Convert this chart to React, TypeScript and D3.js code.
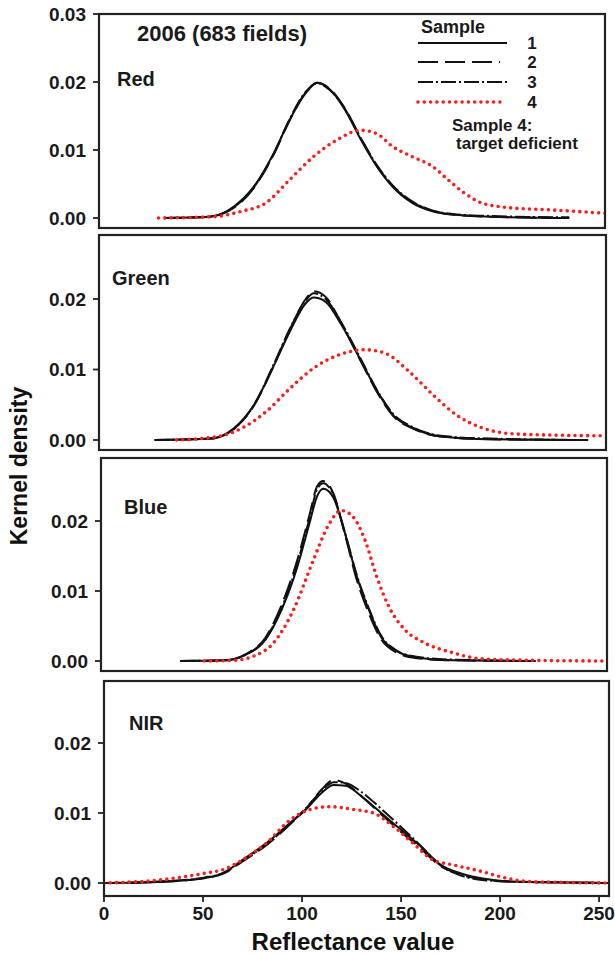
import React from "react";
import * as d3 from "d3";

// band names and sample ids
const bands = ["Red", "Green", "Blue", "NIR"];
const sampleIds = ["1", "2", "3", "4"];
const yTickValues = [0, 0.01, 0.02];
const xTickValues = [0, 50, 100, 150, 200, 250];

// Red band
const redBlackX = [33, 56, 68, 78, 88, 96, 104, 110, 116, 124, 132, 140, 148, 158, 168, 178, 197, 237];
const redS1 = [0, 0.0002, 0.0017, 0.0046, 0.0095, 0.0144, 0.0183, 0.0199, 0.019, 0.0159, 0.0115, 0.0076, 0.0046, 0.0022, 0.001, 0.0005, 0.0002, 0];
const redS2 = [0, 0.0002, 0.0015, 0.0044, 0.0093, 0.0143, 0.0184, 0.0199, 0.0191, 0.0161, 0.0117, 0.0077, 0.0047, 0.0023, 0.0011, 0.0005, 0.0002, 0];
const redS3 = [0, 0.0002, 0.0016, 0.0045, 0.0094, 0.0145, 0.0185, 0.0198, 0.0189, 0.016, 0.0117, 0.0078, 0.0048, 0.0024, 0.0011, 0.0006, 0.0003, 0.0001];
const redRedX = [30, 58, 72, 84, 96, 108, 120, 132, 140, 148, 158, 168, 176, 184, 193, 207, 227, 255];
const redS4 = [0, 0.0002, 0.001, 0.0022, 0.0056, 0.009, 0.0115, 0.0129, 0.0124, 0.0105, 0.009, 0.0076, 0.0056, 0.0037, 0.0022, 0.0015, 0.0012, 0.0007];

// Green band
const greenBlackX = [28, 56, 68, 78, 88, 96, 104, 108, 114, 122, 132, 140, 148, 158, 172, 197, 246];
const greenS1 = [0, 0.0002, 0.0017, 0.005, 0.0106, 0.0154, 0.0194, 0.0202, 0.0196, 0.0163, 0.0111, 0.0069, 0.0035, 0.0017, 0.0005, 0.0001, 0];
const greenS2 = [0, 0.0002, 0.0016, 0.0049, 0.0106, 0.0157, 0.02, 0.0211, 0.0203, 0.0165, 0.011, 0.0067, 0.0034, 0.0016, 0.0005, 0.0001, 0];
const greenS3 = [0, 0.0002, 0.0016, 0.005, 0.0108, 0.0158, 0.0198, 0.0208, 0.02, 0.0166, 0.0113, 0.007, 0.0037, 0.0018, 0.0006, 0.0002, 0];
const greenRedX = [39, 60, 72, 84, 96, 108, 120, 134, 144, 156, 168, 180, 191, 207, 227, 255];
const greenS4 = [0, 0.0005, 0.0017, 0.004, 0.0073, 0.0102, 0.012, 0.0128, 0.0123, 0.0097, 0.0064, 0.0035, 0.0019, 0.0009, 0.0007, 0.0006];

// Blue band
const blueBlackX = [40, 63, 73, 83, 91, 99, 105, 109, 112, 117, 123, 129, 135, 141, 149, 159, 177, 219];
const blueS1 = [0, 0.0001, 0.0009, 0.0031, 0.0073, 0.0135, 0.0196, 0.0236, 0.0246, 0.0234, 0.0182, 0.012, 0.0073, 0.0035, 0.0014, 0.0005, 0.0001, 0];
const blueS2 = [0, 0.0001, 0.001, 0.0034, 0.008, 0.0145, 0.0208, 0.025, 0.0257, 0.024, 0.018, 0.0115, 0.0068, 0.0032, 0.0012, 0.0004, 0.0001, 0];
const blueS3 = [0, 0.0001, 0.0009, 0.0032, 0.0076, 0.014, 0.0203, 0.0246, 0.0254, 0.0238, 0.0183, 0.0122, 0.0075, 0.0037, 0.0015, 0.0006, 0.0002, 0];
const blueRedX = [52, 67, 77, 87, 97, 107, 115, 121, 127, 133, 139, 145, 153, 163, 177, 192, 216, 255];
const blueS4 = [0, 0.0001, 0.0007, 0.0026, 0.0073, 0.0144, 0.0196, 0.0215, 0.0206, 0.0173, 0.012, 0.0078, 0.0045, 0.0026, 0.0012, 0.0003, 0.0001, 0];

// NIR band
const nirBlackX = [0, 27, 51, 60, 70, 82, 94, 102, 110, 116, 122, 130, 140, 150, 160, 170, 180, 192, 205, 225, 255];
const nirS1 = [0, 0.00015, 0.0007, 0.0014, 0.0033, 0.0057, 0.0086, 0.0105, 0.0129, 0.014, 0.0139, 0.0124, 0.01, 0.0076, 0.0052, 0.0026, 0.0014, 0.0006, 0.0002, 0.0001, 0];
const nirS2 = [0, 0.00015, 0.0007, 0.0013, 0.0031, 0.0054, 0.0084, 0.0106, 0.0134, 0.0147, 0.0142, 0.0124, 0.0098, 0.0073, 0.0049, 0.0024, 0.0012, 0.0005, 0.0002, 0.0001, 0];
const nirS3 = [0, 0.0002, 0.0008, 0.0014, 0.0032, 0.0055, 0.0085, 0.0107, 0.0132, 0.0144, 0.0143, 0.013, 0.0106, 0.008, 0.0053, 0.0025, 0.0011, 0.0004, 0.0002, 0.0001, 0];
const nirRedX = [0, 27, 51, 60, 70, 82, 94, 104, 114, 126, 136, 146, 156, 166, 176, 190, 203, 215, 255];
const nirS4 = [0, 0.0004, 0.0014, 0.0019, 0.0033, 0.0057, 0.009, 0.0105, 0.0109, 0.0105, 0.01, 0.0081, 0.0057, 0.0033, 0.0026, 0.0017, 0.0007, 0.0002, 0];

const panelData = [
  { blackX: redBlackX, black: [redS1, redS2, redS3], redX: redRedX, red: redS4 },
  { blackX: greenBlackX, black: [greenS1, greenS2, greenS3], redX: greenRedX, red: greenS4 },
  { blackX: blueBlackX, black: [blueS1, blueS2, blueS3], redX: blueRedX, red: blueS4 },
  { blackX: nirBlackX, black: [nirS1, nirS2, nirS3], redX: nirRedX, red: nirS4 },
];

// panel boxes (the scan is a little skewed, so each one differs)
const layout = [
  { left: 99, right: 605, top: 14, bottom: 228, zero: 218, unit: 68, lx: 117, ly: 86 },
  { left: 99, right: 606, top: 235, bottom: 450, zero: 440, unit: 70.5, lx: 112, ly: 285 },
  { left: 101, right: 607, top: 458, bottom: 671, zero: 661, unit: 70, lx: 124, ly: 514 },
  { left: 104, right: 609, top: 681, bottom: 896, zero: 883, unit: 70, lx: 129, ly: 730 },
];

const styles = [
  { stroke: "#111", dash: undefined, width: 2 },
  { stroke: "#111", dash: "20 7", width: 2 },
  { stroke: "#111", dash: "15 3 2 3", width: 2 },
  { stroke: "#ff1a1a", dash: "0 6.3", width: 3.6 },
];

const font = "'Liberation Sans', Arial, Helvetica, sans-serif";
const ink = "#1a1a1a";

function Panel({ idx }: { idx: number }) {
  const L = layout[idx];
  const d = panelData[idx];
  const x = d3.scaleLinear().domain([0, 255]).range([L.left, L.right]);
  const y = d3.scaleLinear().domain([0, 0.01]).range([L.zero, L.zero - L.unit]);
  const line = d3
    .line<[number, number]>()
    .x((p) => x(p[0]))
    .y((p) => y(p[1]))
    .curve(d3.curveMonotoneX);
  const ticks = idx === 0 ? [...yTickValues, 0.03] : yTickValues;
  const clipId = "clip" + idx;
  return (
    <g>
      <defs>
        <clipPath id={clipId}>
          <rect x={L.left} y={L.top} width={L.right - L.left} height={L.bottom - L.top} />
        </clipPath>
      </defs>
      <g clipPath={`url(#${clipId})`}>
        {d.black.map((vals, i) => (
          <path
            key={i}
            d={line(d.blackX.map((v, j) => [v, vals[j]]) as [number, number][]) || ""}
            fill="none"
            stroke={styles[i].stroke}
            strokeWidth={styles[i].width}
            strokeDasharray={styles[i].dash}
          />
        ))}
        <path
          d={line(d.redX.map((v, j) => [v, d.red[j]]) as [number, number][]) || ""}
          fill="none"
          stroke={styles[3].stroke}
          strokeWidth={styles[3].width}
          strokeDasharray={styles[3].dash}
          strokeLinecap="round"
        />
      </g>
      <rect
        x={L.left}
        y={L.top}
        width={L.right - L.left}
        height={L.bottom - L.top}
        fill="none"
        stroke="#222"
        strokeWidth={2.2}
      />
      {ticks.map((t) => (
        <g key={t}>
          <line x1={L.left - 6} x2={L.left} y1={y(t)} y2={y(t)} stroke="#222" strokeWidth={1.8} />
          <text
            x={L.left - 13}
            y={y(t) + 6.5}
            textAnchor="end"
            fontSize={19}
            fontWeight="bold"
            fill={ink}
          >
            {d3.format(".2f")(t)}
          </text>
        </g>
      ))}
      <text x={L.lx} y={L.ly} fontSize={20} fontWeight="bold" fill={ink}>
        {bands[idx]}
      </text>
      {idx === 3 &&
        xTickValues.map((t) => (
          <g key={t}>
            <line x1={x(t)} x2={x(t)} y1={L.bottom} y2={L.bottom + 6} stroke="#222" strokeWidth={1.8} />
            <text x={x(t)} y={L.bottom + 24} textAnchor="middle" fontSize={19} fontWeight="bold" fill={ink}>
              {t}
            </text>
          </g>
        ))}
    </g>
  );
}

function Legend() {
  const rows = [43, 62, 82, 102];
  return (
    <g fontWeight="bold" fill={ink}>
      <text x={421} y={33} fontSize={18}>Sample</text>
      {sampleIds.map((s, i) => (
        <g key={s}>
          <line
            x1={418}
            x2={i === 0 || i === 2 ? 507 : 500}
            y1={rows[i]}
            y2={rows[i]}
            stroke={styles[i].stroke}
            strokeWidth={styles[i].width}
            strokeDasharray={styles[i].dash}
            strokeLinecap={i === 3 ? "round" : "butt"}
          />
          <text x={532} y={rows[i] + 6} fontSize={17} textAnchor="middle">{s}</text>
        </g>
      ))}
      <text x={452} y={131} fontSize={17}>Sample 4:</text>
      <text x={456} y={149} fontSize={17}>target deficient</text>
    </g>
  );
}

export default function App() {
  return (
    <svg
      width={615}
      height={954}
      style={{ position: "absolute", left: 0, top: 0, background: "#fff" }}
      fontFamily={font}
    >
      <rect width={615} height={954} fill="#fff" />
      {bands.map((b, i) => (
        <Panel key={b} idx={i} />
      ))}
      <Legend />
      <text x={137} y={41} fontSize={22} fontWeight="bold" fill={ink}>2006 (683 fields)</text>
      <text
        transform="translate(27,466) rotate(-90)"
        textAnchor="middle"
        fontSize={23}
        fontWeight="bold"
        fill="#111"
      >
        Kernel density
      </text>
      <text x={353} y={950} textAnchor="middle" fontSize={24} fontWeight="bold" fill="#111">
        Reflectance value
      </text>
    </svg>
  );
}
